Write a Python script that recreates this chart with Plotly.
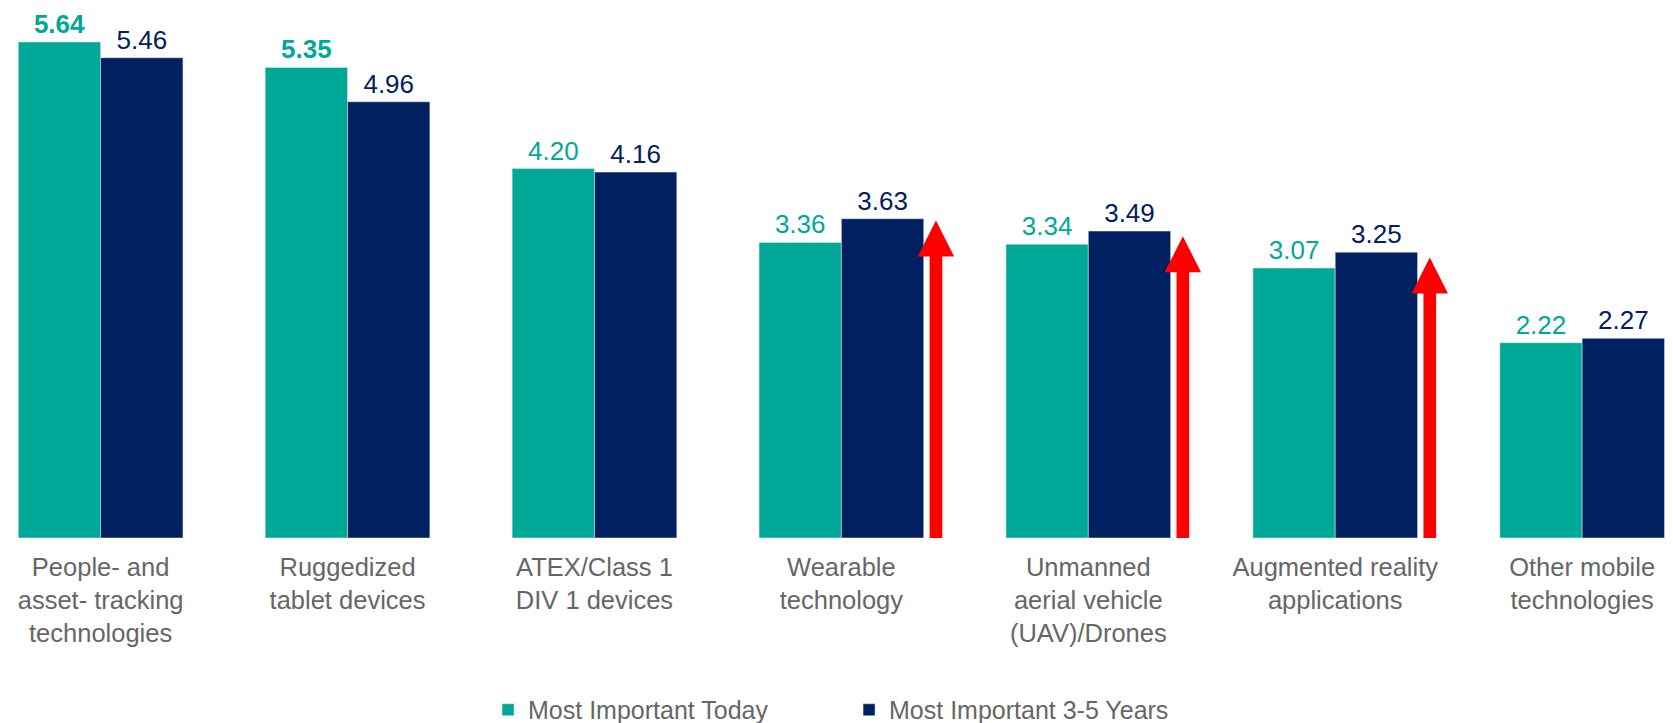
import plotly.graph_objects as go

# ---- data ----
categories = [
    "People- and<br>asset- tracking<br>technologies",
    "Ruggedized<br>tablet devices",
    "ATEX/Class 1<br>DIV 1 devices",
    "Wearable<br>technology",
    "Unmanned<br>aerial vehicle<br>(UAV)/Drones",
    "Augmented reality<br>applications",
    "Other mobile<br>technologies",
]
today = [5.64, 5.35, 4.20, 3.36, 3.34, 3.07, 2.22]
future = [5.46, 4.96, 4.16, 3.63, 3.49, 3.25, 2.27]
today_bold = [True, True, False, False, False, False, False]
series_names = ["Most Important Today", "Most Important 3-5 Years"]

# arrows (rising importance) : category index and arrow tip value
arrow_idx = [3, 4, 5]
arrow_tip = [3.61, 3.43, 3.19]

# ---- style ----
TEAL = "#00A997"
NAVY = "#002060"
RED = "#FF0000"
GRAY = "#666666"
FONT = "Liberation Sans, Arial, sans-serif"

xpos = list(range(len(categories)))

today_text = [f"<b>{v:.2f}</b>" if b else f"{v:.2f}" for v, b in zip(today, today_bold)]
future_text = [f"{v:.2f}" for v in future]

fig = go.Figure()
fig.add_trace(go.Bar(
    x=xpos, y=today, name=series_names[0], marker_color=TEAL,
    text=today_text, textposition="outside", constraintext="none",
    textfont=dict(color=TEAL, size=26, family=FONT), cliponaxis=False,
))
fig.add_trace(go.Bar(
    x=xpos, y=future, name=series_names[1], marker_color=NAVY,
    text=future_text, textposition="outside", constraintext="none",
    textfont=dict(color=NAVY, size=26, family=FONT), cliponaxis=False,
))

# red arrows drawn in data coordinates
off = 0.383
shaft_w = 0.0514
head_w = 0.1474
head_h = 0.409
for i, tip in zip(arrow_idx, arrow_tip):
    c = i + off
    base = tip - head_h
    fig.add_shape(type="rect", xref="x", yref="y",
                  x0=c - shaft_w / 2, x1=c + shaft_w / 2, y0=0, y1=base + 0.01,
                  fillcolor=RED, line_width=0, layer="above")
    fig.add_shape(type="path", xref="x", yref="y",
                  path=f"M{c - head_w / 2},{base} L{c + head_w / 2},{base} L{c},{tip} Z",
                  fillcolor=RED, line_width=0, layer="above")

fig.update_layout(
    width=1673, height=723,
    margin=dict(l=0, r=0, t=0, b=185, autoexpand=False),
    paper_bgcolor="white", plot_bgcolor="white",
    barmode="group", bargap=0.333, bargroupgap=0,
    font=dict(family=FONT, color=GRAY, size=25.5),
    xaxis=dict(range=[-0.4075, 6.368], tickmode="array", tickvals=xpos,
               ticktext=categories, showgrid=False, zeroline=False,
               showline=False, ticks="", ticklabelstandoff=11, automargin=False,
               tickfont=dict(size=25.5, color=GRAY)),
    yaxis=dict(range=[0, 6.117], visible=False, automargin=False),
    showlegend=True,
    legend=dict(orientation="h", x=0.5075, xanchor="center",
                yref="container", y=0.018, yanchor="middle",
                font=dict(size=25, color=GRAY), entrywidth=316, entrywidthmode="pixels",
                traceorder="normal"),
)

fig.write_html(
    "out.html",
    config={"displayModeBar": False},
    post_script="document.body.style.margin='0';document.body.style.overflow='hidden';",
)
